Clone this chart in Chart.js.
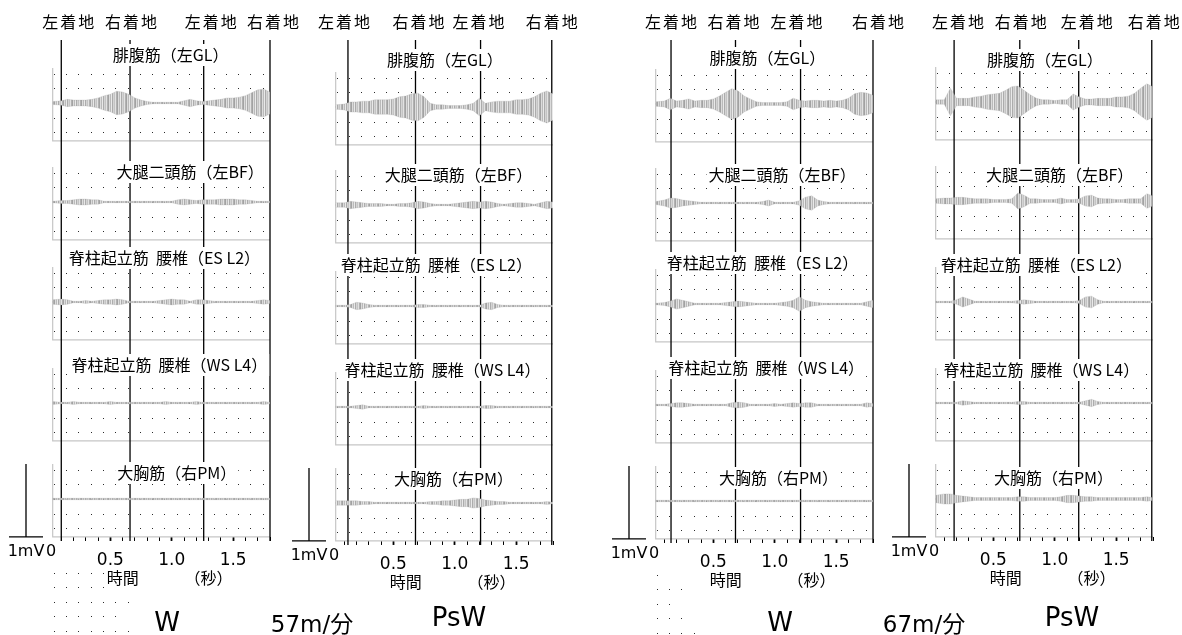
<!DOCTYPE html>
<html>
<head>
<meta charset="utf-8">
<script src="https://cdn.jsdelivr.net/npm/chart.js@4.4.1/dist/chart.umd.min.js"></script>
<style>
  html, body { margin: 0; padding: 0; background: #fff; }
  #wrap { position: relative; width: 1182px; height: 635px; overflow: hidden; }
  #wrap canvas { position: absolute; left: 0; top: 0; }
  .cap { position: absolute; color: #000; white-space: nowrap; transform: translate(-50%, -50%);
         font-family: "DejaVu Sans", "Noto Sans CJK JP", sans-serif; }
</style>
</head>
<body>
<div id="wrap">
  <canvas id="c0" width="1182" height="635"></canvas>
  <canvas id="c1" width="1182" height="635"></canvas>
  <canvas id="c2" width="1182" height="635"></canvas>
  <canvas id="c3" width="1182" height="635"></canvas>
  <div class="cap" style="left:167px;top:622px;font-size:26px">W</div>
  <div class="cap" style="left:312px;top:622px;font-size:23px">57m/分</div>
  <div class="cap" style="left:459px;top:617px;font-size:26px">PsW</div>
  <div class="cap" style="left:780px;top:622px;font-size:26px">W</div>
  <div class="cap" style="left:924px;top:622px;font-size:23px">67m/分</div>
  <div class="cap" style="left:1072px;top:617px;font-size:26px">PsW</div>
</div>
<script>
(function() {
    'use strict';

    // sample times (s) of the EMG envelopes
    var TIMES = [0.03, 0.10, 0.15, 0.20, 0.25, 0.30, 0.35, 0.40, 0.45, 0.50, 0.55, 0.60,
                 0.65, 0.70, 0.75, 0.80, 0.85, 0.90, 0.95, 1.00, 1.05, 1.10, 1.15, 1.20,
                 1.25, 1.30, 1.35, 1.40, 1.45, 1.50, 1.55, 1.60, 1.65, 1.70, 1.75, 1.80];
    var MUSCLES = ['腓腹筋（左GL）', '大腿二頭筋（左BF）', '脊柱起立筋  腰椎（ES L2）',
                   '脊柱起立筋  腰椎（WS L4）', '大胸筋（右PM）'];
    var CONTACT_LABELS = ['左着地', '右着地', '左着地', '右着地'];
    var X_TICKS = [0.5, 1.0, 1.5];

    // EMG amplitude envelopes (mV), W 57 m/min
    var w57Contacts = [0.10, 0.66, 1.26, 1.80];
    var w57GL = [0.02,0.03,0.05,0.04,0.04,0.04,0.05,0.07,0.10,0.12,0.16,0.15,0.12,0.07,0.04,0.02,0.01,0.01,0.01,0.01,0.01,0.03,0.05,0.03,0.02,0.03,0.04,0.05,0.07,0.07,0.08,0.10,0.14,0.18,0.19,0.15];
    var w57BF = [0.01,0.02,0.02,0.03,0.04,0.04,0.03,0.03,0.01,0.01,0.01,0.01,0.01,0.01,0.01,0.01,0.01,0.01,0.01,0.01,0.03,0.04,0.03,0.02,0.03,0.03,0.03,0.04,0.04,0.04,0.03,0.03,0.02,0.01,0.01,0.01];
    var w57ES = [0.03,0.04,0.03,0.01,0.01,0.02,0.01,0.02,0.03,0.03,0.04,0.03,0.01,0.01,0.01,0.01,0.01,0.02,0.03,0.04,0.03,0.03,0.01,0.03,0.03,0.02,0.01,0.01,0.01,0.01,0.01,0.01,0.01,0.02,0.03,0.02];
    var w57WS = [0.02,0.01,0.01,0.02,0.01,0.01,0.01,0.01,0.01,0.02,0.01,0.01,0.01,0.01,0.01,0.01,0.01,0.01,0.02,0.01,0.01,0.01,0.01,0.02,0.01,0.01,0.01,0.01,0.01,0.01,0.01,0.01,0.01,0.01,0.02,0.01];
    var w57PM = [0.01,0.01,0.01,0.01,0.01,0.01,0.01,0.01,0.01,0.01,0.01,0.01,0.01,0.01,0.01,0.01,0.01,0.01,0.01,0.01,0.01,0.01,0.01,0.01,0.01,0.01,0.01,0.01,0.01,0.01,0.01,0.01,0.01,0.01,0.01,0.01];

    // PsW 57 m/min
    var psw57Contacts = [0.13, 0.68, 1.21, 1.79];
    var psw57GL = [0.03,0.04,0.07,0.07,0.08,0.08,0.10,0.10,0.10,0.11,0.14,0.15,0.18,0.19,0.14,0.05,0.03,0.03,0.02,0.02,0.02,0.03,0.05,0.12,0.05,0.07,0.08,0.08,0.08,0.10,0.10,0.11,0.14,0.19,0.22,0.18];
    var psw57BF = [0.03,0.03,0.05,0.04,0.03,0.02,0.02,0.02,0.01,0.01,0.02,0.02,0.03,0.05,0.04,0.02,0.01,0.01,0.01,0.02,0.03,0.04,0.05,0.04,0.05,0.04,0.02,0.01,0.02,0.03,0.03,0.02,0.01,0.03,0.05,0.04];
    var psw57ES = [0.01,0.01,0.02,0.05,0.04,0.02,0.01,0.01,0.01,0.01,0.01,0.01,0.01,0.02,0.02,0.01,0.01,0.01,0.01,0.01,0.01,0.01,0.01,0.01,0.04,0.05,0.02,0.01,0.01,0.01,0.01,0.01,0.01,0.01,0.01,0.01];
    var psw57WS = [0.01,0.01,0.01,0.02,0.03,0.01,0.01,0.01,0.01,0.01,0.01,0.01,0.01,0.01,0.02,0.01,0.01,0.01,0.01,0.01,0.01,0.01,0.01,0.01,0.02,0.02,0.01,0.01,0.01,0.01,0.01,0.01,0.01,0.01,0.01,0.01];
    var psw57PM = [0.03,0.03,0.03,0.03,0.02,0.02,0.01,0.01,0.01,0.01,0.01,0.01,0.01,0.01,0.01,0.02,0.02,0.03,0.03,0.04,0.05,0.05,0.07,0.06,0.04,0.03,0.02,0.02,0.01,0.01,0.01,0.01,0.01,0.01,0.02,0.01];

    // W 67 m/min
    var w67Contacts = [0.155, 0.68, 1.21, 1.80];
    var w67GL = [0.03,0.04,0.08,0.04,0.05,0.07,0.04,0.05,0.05,0.07,0.11,0.16,0.21,0.18,0.11,0.07,0.03,0.02,0.02,0.02,0.02,0.03,0.08,0.05,0.04,0.05,0.05,0.04,0.05,0.04,0.05,0.08,0.14,0.16,0.15,0.12];
    var w67BF = [0.02,0.04,0.07,0.06,0.04,0.03,0.02,0.01,0.01,0.01,0.01,0.01,0.01,0.01,0.01,0.01,0.01,0.02,0.04,0.01,0.01,0.01,0.01,0.03,0.08,0.10,0.04,0.02,0.01,0.01,0.01,0.01,0.01,0.01,0.01,0.01];
    var w67ES = [0.01,0.02,0.04,0.07,0.05,0.03,0.01,0.01,0.01,0.01,0.01,0.02,0.03,0.04,0.03,0.02,0.01,0.01,0.01,0.01,0.02,0.03,0.05,0.10,0.05,0.03,0.02,0.01,0.01,0.01,0.01,0.01,0.01,0.01,0.03,0.05];
    var w67WS = [0.01,0.01,0.02,0.03,0.03,0.02,0.01,0.01,0.01,0.01,0.01,0.01,0.03,0.04,0.03,0.01,0.01,0.01,0.01,0.02,0.01,0.02,0.03,0.02,0.03,0.03,0.01,0.01,0.01,0.01,0.01,0.01,0.01,0.01,0.03,0.02];
    var w67PM = [0.01,0.01,0.01,0.01,0.01,0.01,0.01,0.01,0.01,0.01,0.01,0.01,0.01,0.01,0.01,0.01,0.01,0.01,0.01,0.01,0.01,0.01,0.01,0.01,0.01,0.01,0.01,0.01,0.01,0.01,0.01,0.01,0.01,0.01,0.01,0.01];

    // PsW 67 m/min
    var psw67Contacts = [0.18, 0.715, 1.195, 1.79];
    var psw67GL = [0.03,0.03,0.19,0.05,0.05,0.05,0.07,0.08,0.10,0.11,0.12,0.16,0.21,0.22,0.16,0.10,0.05,0.03,0.03,0.02,0.03,0.03,0.11,0.07,0.04,0.04,0.05,0.05,0.05,0.07,0.07,0.08,0.12,0.19,0.25,0.21];
    var psw67BF = [0.03,0.04,0.04,0.05,0.05,0.04,0.03,0.03,0.03,0.02,0.02,0.02,0.03,0.11,0.08,0.03,0.03,0.02,0.02,0.02,0.04,0.02,0.02,0.03,0.07,0.08,0.04,0.03,0.03,0.02,0.02,0.03,0.03,0.03,0.10,0.07];
    var psw67ES = [0.01,0.01,0.01,0.03,0.07,0.04,0.01,0.01,0.01,0.01,0.01,0.01,0.01,0.02,0.03,0.02,0.01,0.01,0.01,0.01,0.01,0.01,0.01,0.02,0.07,0.08,0.03,0.01,0.01,0.01,0.01,0.01,0.01,0.01,0.01,0.01];
    var psw67WS = [0.01,0.01,0.01,0.01,0.03,0.02,0.01,0.01,0.01,0.01,0.01,0.01,0.01,0.02,0.02,0.01,0.01,0.01,0.01,0.01,0.01,0.01,0.01,0.01,0.03,0.05,0.02,0.01,0.01,0.01,0.01,0.01,0.01,0.01,0.01,0.01];
    var psw67PM = [0.05,0.07,0.07,0.05,0.04,0.03,0.02,0.02,0.02,0.02,0.02,0.02,0.02,0.03,0.03,0.02,0.02,0.02,0.02,0.02,0.03,0.05,0.05,0.04,0.03,0.03,0.02,0.02,0.02,0.02,0.02,0.02,0.02,0.02,0.03,0.02];

    // layout (pixels) - not data
    var PX_PER_MV = 73;
    var SPAN = 221;          // px for 0..1.8 s
    var TOP = 40;
    var X_MAX = 1.8;
    var PANEL_T0 = 0.03;
    var PANEL_TOP = 0.48, PANEL_BOTTOM = 0.52;
    var DOT_ROWS = [0.4, 0.2, 0, -0.2, -0.4];
    var CJK = '"Noto Sans CJK JP", sans-serif';
    var NUM = '"DejaVu Sans", sans-serif';
    var STRIPES = ['#a2a2a2', '#dcdcdc', '#bababa', '#e9e9e9', '#acacac', '#d4d4d4', '#c4c4c4', '#e2e2e2', '#b2b2b2'];

    var columns = [
        { id: 'c0', x0: 49, base: [103, 202, 302, 403, 499], contacts: w57Contacts,
          traces: [w57GL, w57BF, w57ES, w57WS, w57PM],
          titleT: [0.99, 1.15, 0.94, 0.98, 1.04], titleDy: [-48, -30, -44, -38, -26],
          labelDx: [7, 1, 7, 3], extra: [5, 6, 7, 6, 7] },
        { id: 'c1', x0: 332, base: [107, 205, 306, 407, 503], contacts: psw57Contacts,
          traces: [psw57GL, psw57BF, psw57ES, psw57WS, psw57PM],
          titleT: [0.92, 1.03, 0.85, 0.90, 0.99], titleDy: [-47, -30, -41, -37, -24],
          labelDx: [-4, 3, -2, 0], extra: [] },
        { id: 'c2', x0: 652, base: [104, 203, 304, 405, 501], contacts: w67Contacts,
          traces: [w67GL, w67BF, w67ES, w67WS, w67PM],
          titleT: [0.94, 1.06, 0.90, 0.93, 1.03], titleDy: [-46, -28, -41, -37, -23],
          labelDx: [0, -2, -4, 5], extra: [1, 3, 2, 3, 4] },
        { id: 'c3', x0: 932, base: [102, 201, 302, 403, 499], contacts: psw67Contacts,
          traces: [psw67GL, psw67BF, psw67ES, psw67WS, psw67PM],
          titleT: [0.92, 1.04, 0.85, 0.89, 0.99], titleDy: [-42, -26, -37, -33, -21],
          labelDx: [4, 1, 8, 2], extra: [] }
    ];

    // vertical grey stripes so the filled envelope reads like a raw EMG trace
    function stripePattern(ctx) {
        var c = document.createElement('canvas');
        c.width = STRIPES.length;
        c.height = 1;
        var g = c.getContext('2d');
        STRIPES.forEach(function(s, i) {
            g.fillStyle = s;
            g.fillRect(i, 0, 1, 1);
        });
        return ctx.createPattern(c, 'repeat');
    }

    function boxedText(ctx, text, cx, cy, h) {
        var w = ctx.measureText(text).width;
        ctx.fillStyle = '#fff';
        ctx.fillRect(cx - w / 2 - 2, cy - h / 2, w + 4, h);
        ctx.fillStyle = '#000';
        ctx.fillText(text, cx, cy);
    }

    function panelPlugin(col) {
        return {
            id: 'emgPanels',
            beforeDatasetsDraw: function(chart) {
                var ctx = chart.ctx, x = chart.scales.x;
                var left = x.getPixelForValue(PANEL_T0), right = x.getPixelForValue(X_MAX);
                ctx.save();
                for (var i = 0; i < 5; i++) {
                    var y = chart.scales['p' + i];
                    var top = y.getPixelForValue(PANEL_TOP), bot = y.getPixelForValue(-PANEL_BOTTOM);
                    ctx.strokeStyle = '#c6c6c6';
                    ctx.lineWidth = 1.2;
                    ctx.beginPath();
                    ctx.moveTo(left, top);
                    ctx.lineTo(left, bot);
                    ctx.lineTo(right, bot);
                    ctx.stroke();
                    ctx.fillStyle = '#2a2a2a';
                    DOT_ROWS.forEach(function(v) {
                        var py = Math.round(y.getPixelForValue(v));
                        for (var k = 0; k < 18; k++) {
                            ctx.fillRect(Math.round(x.getPixelForValue(0.04 + 0.1 * k)), py, 1, 1);
                        }
                    });
                }
                ctx.restore();
            },
            afterDatasetsDraw: function(chart) {
                var ctx = chart.ctx, x = chart.scales.x, p4 = chart.scales.p4;
                ctx.save();
                ctx.textAlign = 'center';
                ctx.textBaseline = 'middle';

                // muscle titles
                ctx.font = '16px ' + CJK;
                for (var i = 0; i < 5; i++) {
                    boxedText(ctx, MUSCLES[i], x.getPixelForValue(col.titleT[i]),
                              col.base[i] + col.titleDy[i], 22);
                }

                // foot contact labels
                ctx.font = '16px ' + CJK;
                if ('letterSpacing' in ctx) ctx.letterSpacing = '2px';
                col.contacts.forEach(function(t, j) {
                    ctx.fillStyle = '#000';
                    ctx.fillText(CONTACT_LABELS[j], x.getPixelForValue(t) + col.labelDx[j] + 1, 22);
                });
                if ('letterSpacing' in ctx) ctx.letterSpacing = '0px';

                // 1 mV scale bar
                var x0 = x.getPixelForValue(0);
                var bx = x0 - 23;
                var yb = p4.getPixelForValue(-PANEL_BOTTOM), yt = p4.getPixelForValue(1 - PANEL_BOTTOM);
                ctx.strokeStyle = '#000';
                ctx.lineWidth = 1.3;
                ctx.beginPath();
                ctx.moveTo(bx, yt);
                ctx.lineTo(bx, yb);
                ctx.moveTo(bx - 17, yb);
                ctx.lineTo(bx + 17, yb);
                ctx.stroke();
                ctx.fillStyle = '#000';
                ctx.font = '16px ' + NUM;
                ctx.fillText('1mV', bx, yb + 15);
                ctx.fillText('0', x0 + 2, yb + 15);

                // leftover dotted rows under the time axis
                ctx.fillStyle = '#2a2a2a';
                col.extra.forEach(function(n, r) {
                    var py = Math.round(yb + 36 + 14.5 * r);
                    for (var k = 0; k < n; k++) {
                        ctx.fillRect(Math.round(x.getPixelForValue(0.04 + 0.1 * k)), py, 1, 1);
                    }
                });

                // axis title
                ctx.font = '16px ' + CJK;
                boxedText(ctx, '時間', x.getPixelForValue(0.6), yb + 41, 22);
                boxedText(ctx, '（秒）', x.getPixelForValue(1.3), yb + 41, 22);
                ctx.restore();
            }
        };
    }

    function makeChart(col) {
        var ctx = document.getElementById(col.id).getContext('2d');
        var pattern = stripePattern(ctx);
        var bottom = col.base[4] + PANEL_BOTTOM * PX_PER_MV;
        var datasets = [];
        var scales = {
            x: {
                type: 'linear', min: 0, max: X_MAX,
                afterFit: function(s) { s.height = 635 - bottom; },
                border: { display: false },
                grid: {
                    display: true, drawOnChartArea: false, drawTicks: true, tickLength: 4,
                    tickColor: function(c) { return c.tick && Math.abs(c.tick.value) < 1e-6 ? 'rgba(0,0,0,0)' : '#000'; },
                    tickWidth: function(c) {
                        var r = c.tick ? Math.round(c.tick.value * 10) / 10 : 0;
                        return X_TICKS.indexOf(r) >= 0 ? 1.8 : 1;
                    }
                },
                ticks: {
                    stepSize: 0.1, autoSkip: false, maxRotation: 0, padding: 9, color: '#000',
                    font: { family: 'DejaVu Sans', size: 17 },
                    callback: function(v) {
                        var r = Math.round(v * 10) / 10;
                        return X_TICKS.indexOf(r) >= 0 ? r.toFixed(1) : '';
                    }
                }
            },
            yc: { display: false, min: 0, max: 1 }
        };

        col.traces.forEach(function(amp, i) {
            var axis = 'p' + i;
            scales[axis] = {
                display: false,
                min: -(bottom - col.base[i]) / PX_PER_MV,
                max: (col.base[i] - TOP) / PX_PER_MV
            };
            datasets.push({
                data: TIMES.map(function(t, j) { return { x: t, y: amp[j] }; }),
                yAxisID: axis, borderColor: 'rgba(160,160,160,0.45)', borderWidth: 0.5,
                pointRadius: 0, fill: false
            });
            datasets.push({
                data: TIMES.map(function(t, j) { return { x: t, y: -amp[j] }; }),
                yAxisID: axis, borderColor: 'rgba(160,160,160,0.45)', borderWidth: 0.5,
                pointRadius: 0, fill: '-1', backgroundColor: pattern
            });
            datasets.push({
                data: [{ x: TIMES[0], y: 0 }, { x: X_MAX, y: 0 }],
                yAxisID: axis, borderColor: '#909090', borderWidth: 1, pointRadius: 0, fill: false
            });
        });

        var below = -4 / (bottom - TOP);
        col.contacts.forEach(function(t) {
            datasets.push({
                data: [{ x: t, y: 1 }, { x: t, y: below }],
                yAxisID: 'yc', borderColor: '#000', borderWidth: 1.3,
                pointRadius: 0, fill: false, clip: false
            });
        });

        return new Chart(ctx, {
            type: 'line',
            data: { datasets: datasets },
            options: {
                responsive: false,
                animation: false,
                devicePixelRatio: 1,
                layout: { padding: { left: col.x0, right: 1182 - col.x0 - SPAN, top: TOP, bottom: 0 } },
                plugins: { legend: { display: false }, tooltip: { enabled: false } },
                scales: scales
            },
            plugins: [panelPlugin(col)]
        });
    }

    columns.forEach(makeChart);
})();
</script>
</body>
</html>
